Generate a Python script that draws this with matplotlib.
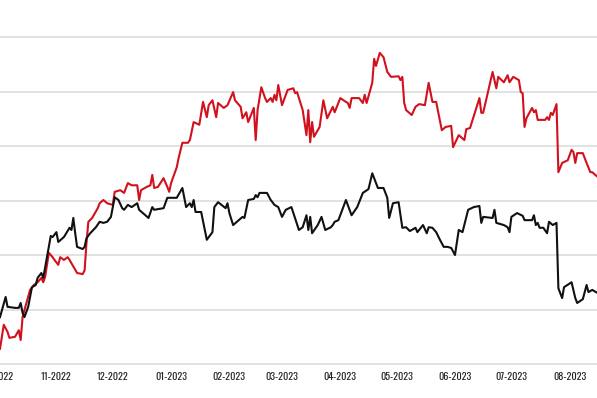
import pandas as pd
import matplotlib
matplotlib.use('Agg')
import matplotlib.pyplot as plt
import matplotlib.dates as mdates

# jours depuis le 02-10-2022
red_days = [0, 2, 4, 5, 8, 10, 11, 12, 13, 16, 18, 20, 22, 23, 24, 26, 28, 29, 31, 32,
            34, 36, 37, 38, 41, 44, 45, 46, 47, 49, 52, 53, 55, 57, 60, 61, 64, 66, 68, 70,
            73, 74, 75, 78, 80, 81, 82, 84, 87, 89, 90, 91, 94, 95, 97, 100, 101, 103, 106, 108,
            110, 111, 113, 115, 116, 119, 121, 124, 125, 128, 129, 131, 132, 135, 136, 137, 139, 141, 142, 144,
            145, 146, 147, 148, 150, 152, 153, 156, 157, 158, 161, 163, 164, 165, 166, 167, 170, 172, 174, 177,
            178, 181, 184, 185, 186, 187, 191, 193, 194, 195, 198, 199, 200, 202, 204, 206, 208, 212, 213, 214,
            215, 216, 219, 221, 223, 226, 228, 230, 232, 235, 237, 240, 241, 244, 247, 248, 250, 253, 255, 256,
            257, 262, 264, 265, 268, 270, 271, 273, 276, 277, 278, 279, 280, 283, 284, 285, 286, 290, 291, 292,
            293, 294, 296, 297, 299, 302, 304, 305, 306, 307, 310, 312, 314, 315, 318]
red_vals = [72.8, 77.2, 75.9, 74.8, 75.0, 76.2, 74.4, 78.6, 79.9, 83.6, 84.5, 85.0, 85.8, 85.0, 86.0, 90.4, 89.6, 89.1, 88.2, 89.6,
            89.1, 89.6, 89.1, 88.5, 86.7, 86.5, 87.2, 92.2, 96.1, 96.8, 98.6, 99.5, 100.1, 99.5, 99.2, 101.6, 101.9, 101.4, 103.2, 102.8,
            102.8, 100.1, 101.9, 102.5, 102.8, 104.7, 102.3, 102.5, 104.1, 102.5, 101.6, 103.2, 106.1, 107.8, 110.6, 110.6, 111.1, 114.4, 113.9, 118.1,
            115.3, 117.5, 118.4, 115.3, 117.9, 117.0, 117.5, 119.9, 118.4, 117.2, 115.1, 116.2, 114.4, 117.0, 111.1, 116.6, 120.8, 118.8, 118.1, 118.8,
            118.1, 119.4, 118.4, 121.2, 117.5, 119.4, 120.3, 120.6, 119.7, 119.9, 116.6, 112.0, 116.6, 110.7, 114.4, 111.7, 113.5, 118.4, 115.1, 117.2,
            116.2, 118.8, 118.1, 117.9, 117.0, 118.8, 118.8, 117.9, 119.4, 117.9, 121.6, 126.0, 124.7, 127.1, 126.3, 123.6, 122.7, 122.8, 122.1, 122.7,
            117.9, 116.6, 115.7, 117.2, 117.7, 117.5, 121.6, 118.1, 118.1, 112.9, 113.5, 113.7, 109.8, 112.0, 111.1, 113.1, 113.3, 116.6, 118.8, 116.1,
            116.1, 123.6, 120.6, 122.7, 121.7, 123.0, 121.7, 122.7, 122.1, 119.9, 119.7, 113.5, 115.1, 117.0, 116.2, 116.6, 114.8, 114.8, 115.3, 114.8,
            116.1, 115.7, 117.7, 105.2, 106.9, 107.4, 109.3, 108.9, 106.9, 108.7, 108.7, 106.9, 105.2, 105.2, 104.3]

black_days = [0, 3, 4, 8, 10, 11, 12, 13, 15, 17, 19, 20, 22, 23, 25, 27, 28, 30, 31, 34,
              37, 38, 39, 40, 41, 44, 45, 46, 48, 51, 53, 55, 57, 59, 61, 63, 65, 66, 68, 70,
              73, 74, 76, 79, 81, 82, 87, 89, 94, 97, 98, 99, 101, 102, 103, 104, 107, 110, 113, 114,
              116, 120, 121, 122, 124, 127, 129, 130, 132, 135, 136, 137, 138, 142, 144, 146, 148, 150, 152, 155,
              159, 161, 163, 164, 165, 166, 169, 171, 173, 176, 177, 178, 180, 184, 187, 190, 193, 196, 198, 201,
              204, 206, 207, 209, 212, 214, 216, 218, 221, 222, 225, 227, 228, 230, 232, 234, 236, 238, 240, 242,
              244, 246, 249, 252, 255, 256, 257, 262, 263, 264, 268, 270, 271, 272, 275, 278, 279, 283, 284, 285,
              286, 287, 289, 291, 292, 294, 296, 297, 299, 300, 304, 306, 307, 310, 312, 313, 315, 318]
black_vals = [78.6, 82.3, 80.5, 80.3, 80.3, 81.2, 79.4, 78.6, 80.5, 84.1, 84.5, 85.8, 86.7, 85.8, 89.6, 93.5, 93.3, 94.2, 92.4, 93.3,
              95.0, 94.6, 96.8, 94.0, 91.5, 91.1, 91.5, 93.1, 94.0, 95.1, 96.1, 95.9, 96.1, 97.0, 100.6, 100.1, 98.6, 98.3, 99.2, 98.8,
              99.5, 98.3, 97.7, 96.8, 98.8, 98.3, 98.6, 100.5, 100.5, 102.3, 100.5, 98.8, 99.5, 98.8, 100.1, 97.9, 97.9, 92.8, 94.2, 98.8,
              99.7, 98.6, 99.5, 97.7, 95.5, 96.4, 97.0, 96.8, 100.1, 100.3, 101.0, 100.6, 101.4, 101.4, 100.1, 99.2, 98.8, 97.0, 98.3, 98.8,
              94.6, 95.1, 97.3, 94.6, 97.0, 94.0, 95.5, 97.0, 94.6, 95.1, 95.5, 96.1, 96.4, 100.1, 97.3, 98.8, 101.4, 102.1, 105.0, 102.3,
              102.3, 100.5, 96.8, 99.5, 99.7, 95.0, 95.1, 94.4, 95.0, 94.2, 95.5, 94.0, 95.1, 95.0, 94.2, 92.8, 91.5, 91.5, 91.3, 90.0,
              94.6, 94.2, 98.3, 98.8, 99.0, 95.9, 97.0, 96.8, 98.3, 95.9, 95.5, 95.1, 94.2, 97.0, 97.7, 97.2, 96.4, 96.4, 97.3, 95.5,
              95.9, 95.0, 95.0, 94.0, 96.1, 95.5, 95.9, 83.9, 82.1, 84.1, 85.0, 82.1, 81.2, 81.9, 84.5, 83.2, 83.6, 83.0]

start = pd.Timestamp('2022-10-02')
red_dates = start + pd.to_timedelta(red_days, unit='D')
black_dates = start + pd.to_timedelta(black_days, unit='D')

fig = plt.figure(figsize=(5.97, 3.98), dpi=100)
# axe plus large que la figure (image recadree a gauche et a droite)
ax = fig.add_axes([-0.0063, 0.0854, 1.0109, 0.888])

ax.plot(red_dates, red_vals, color='#d2111e', lw=1.5, zorder=3)
ax.plot(black_dates, black_vals, color='#111111', lw=1.5, zorder=3)

ax.set_xlim(pd.Timestamp('2022-09-30'), pd.Timestamp('2023-08-17'))
ax.set_ylim(70, 134.86)
ax.set_yticks([80, 90, 100, 110, 120, 130])
ax.yaxis.grid(True, color='#dddddd', lw=1.2)
ax.set_axisbelow(True)
ax.tick_params(axis='y', left=False, labelleft=False)

ax.xaxis.set_major_locator(mdates.MonthLocator())
ax.xaxis.set_major_formatter(mdates.DateFormatter('%m-%Y'))
ax.tick_params(axis='x', length=0, pad=6, labelsize=7.3, labelcolor='#222222')
for lab in ax.get_xticklabels():
    lab.set_family(['Oswald', 'DejaVu Sans'])

for s in ['top', 'left', 'right']:
    ax.spines[s].set_visible(False)
ax.spines['bottom'].set_color('#dddddd')
ax.spines['bottom'].set_linewidth(1.2)

fig.savefig('out.png', dpi=100)
